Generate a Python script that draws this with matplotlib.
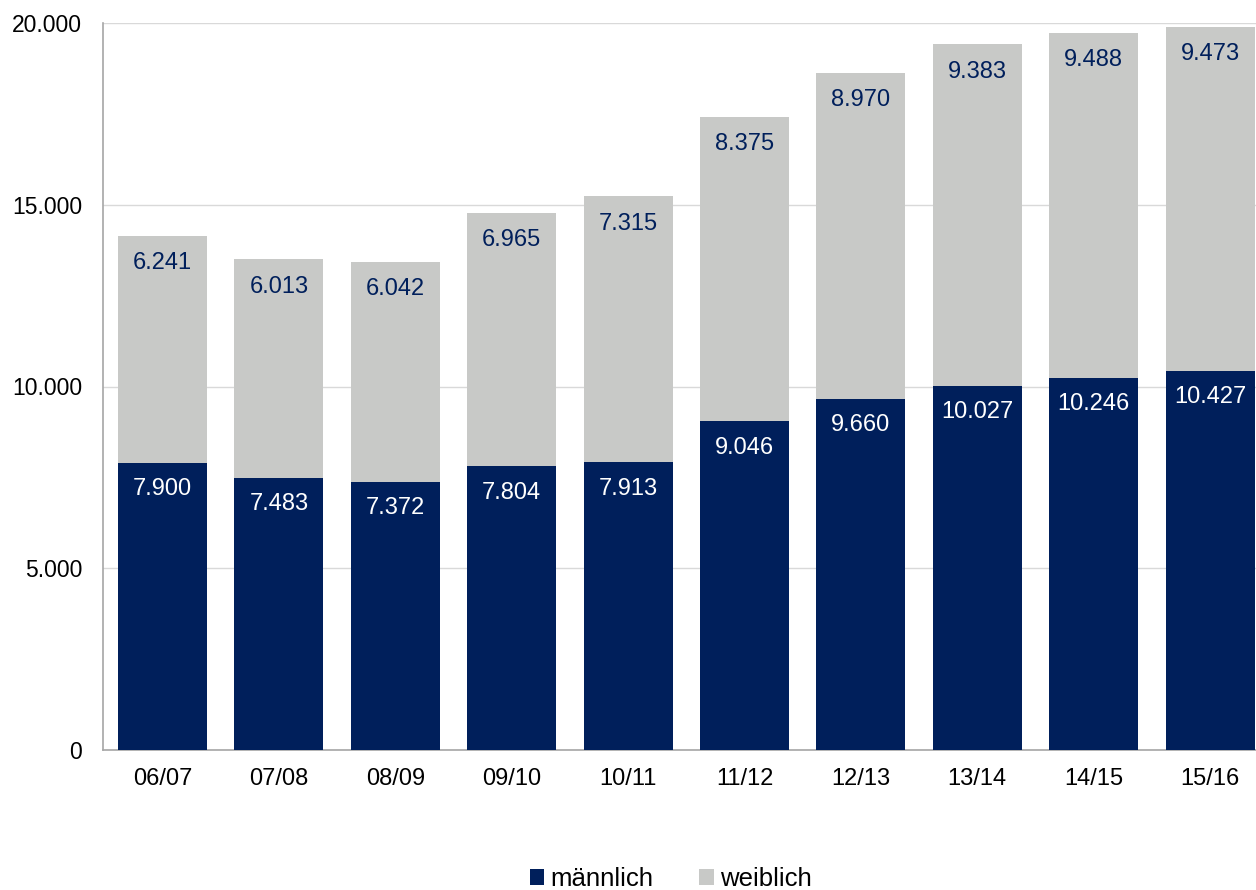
import matplotlib
matplotlib.use("Agg")
import matplotlib.pyplot as plt
import numpy as np

plt.rcParams['font.family'] = ['Liberation Sans', 'DejaVu Sans']

categories = ["06/07", "07/08", "08/09", "09/10", "10/11", "11/12", "12/13", "13/14", "14/15", "15/16"]
maennlich = [7900, 7483, 7372, 7804, 7913, 9046, 9660, 10027, 10246, 10427]
weiblich = [6241, 6013, 6042, 6965, 7315, 8375, 8970, 9383, 9488, 9473]
yticks = [0, 5000, 10000, 15000, 20000]

navy = "#001F5B"
grey = "#C8C9C7"

def fmt(v):
    return f"{v:,}".replace(",", ".")

fig = plt.figure(figsize=(12.56, 8.9), dpi=100)
ax = fig.add_axes([103/1256, 1-750/890, 1-103/1256, (750-23)/890])

x = np.arange(len(categories))
w = 0.765
b1 = ax.bar(x, maennlich, w, color=navy, label="männlich", zorder=3)
b2 = ax.bar(x, weiblich, w, bottom=maennlich, color=grey, label="weiblich", zorder=3)

for i in range(len(categories)):
    ax.annotate(fmt(maennlich[i]), (x[i], maennlich[i]), xytext=(0, -19), textcoords="offset points",
                ha="center", va="center", color="white", fontsize=17, zorder=4)
    tot = maennlich[i] + weiblich[i]
    ax.annotate(fmt(weiblich[i]), (x[i], tot), xytext=(0, -19.5), textcoords="offset points",
                ha="center", va="center", color=navy, fontsize=17, zorder=4)

ax.set_xlim(-(162.5 - 103) / 116.4, (1256 - 162.5) / 116.4)
ax.set_ylim(0, 20000)
ax.set_yticks(yticks)
ax.set_yticklabels([fmt(v) for v in yticks], fontsize=16.5)
ax.set_xticks(x)
ax.set_xticklabels(categories, fontsize=17)
ax.tick_params(axis='both', length=0)
ax.tick_params(axis='y', pad=15)
ax.tick_params(axis='x', pad=13)
ax.yaxis.grid(True, color="#D9D9D9", linewidth=1, zorder=0)
for s in ["top", "right"]:
    ax.spines[s].set_visible(False)
for s in ["left", "bottom"]:
    ax.spines[s].set_color("#A6A6A6")
    ax.spines[s].set_linewidth(1.2)

fig.legend(handles=[b1, b2], labels=["männlich", "weiblich"], loc="center", bbox_to_anchor=(0.534, 0.012),
           ncol=2, frameon=False, fontsize=18.5, handlelength=0.55, handleheight=0.55,
           handletextpad=0.25, columnspacing=1.8)

fig.savefig("out.png", dpi=100)
